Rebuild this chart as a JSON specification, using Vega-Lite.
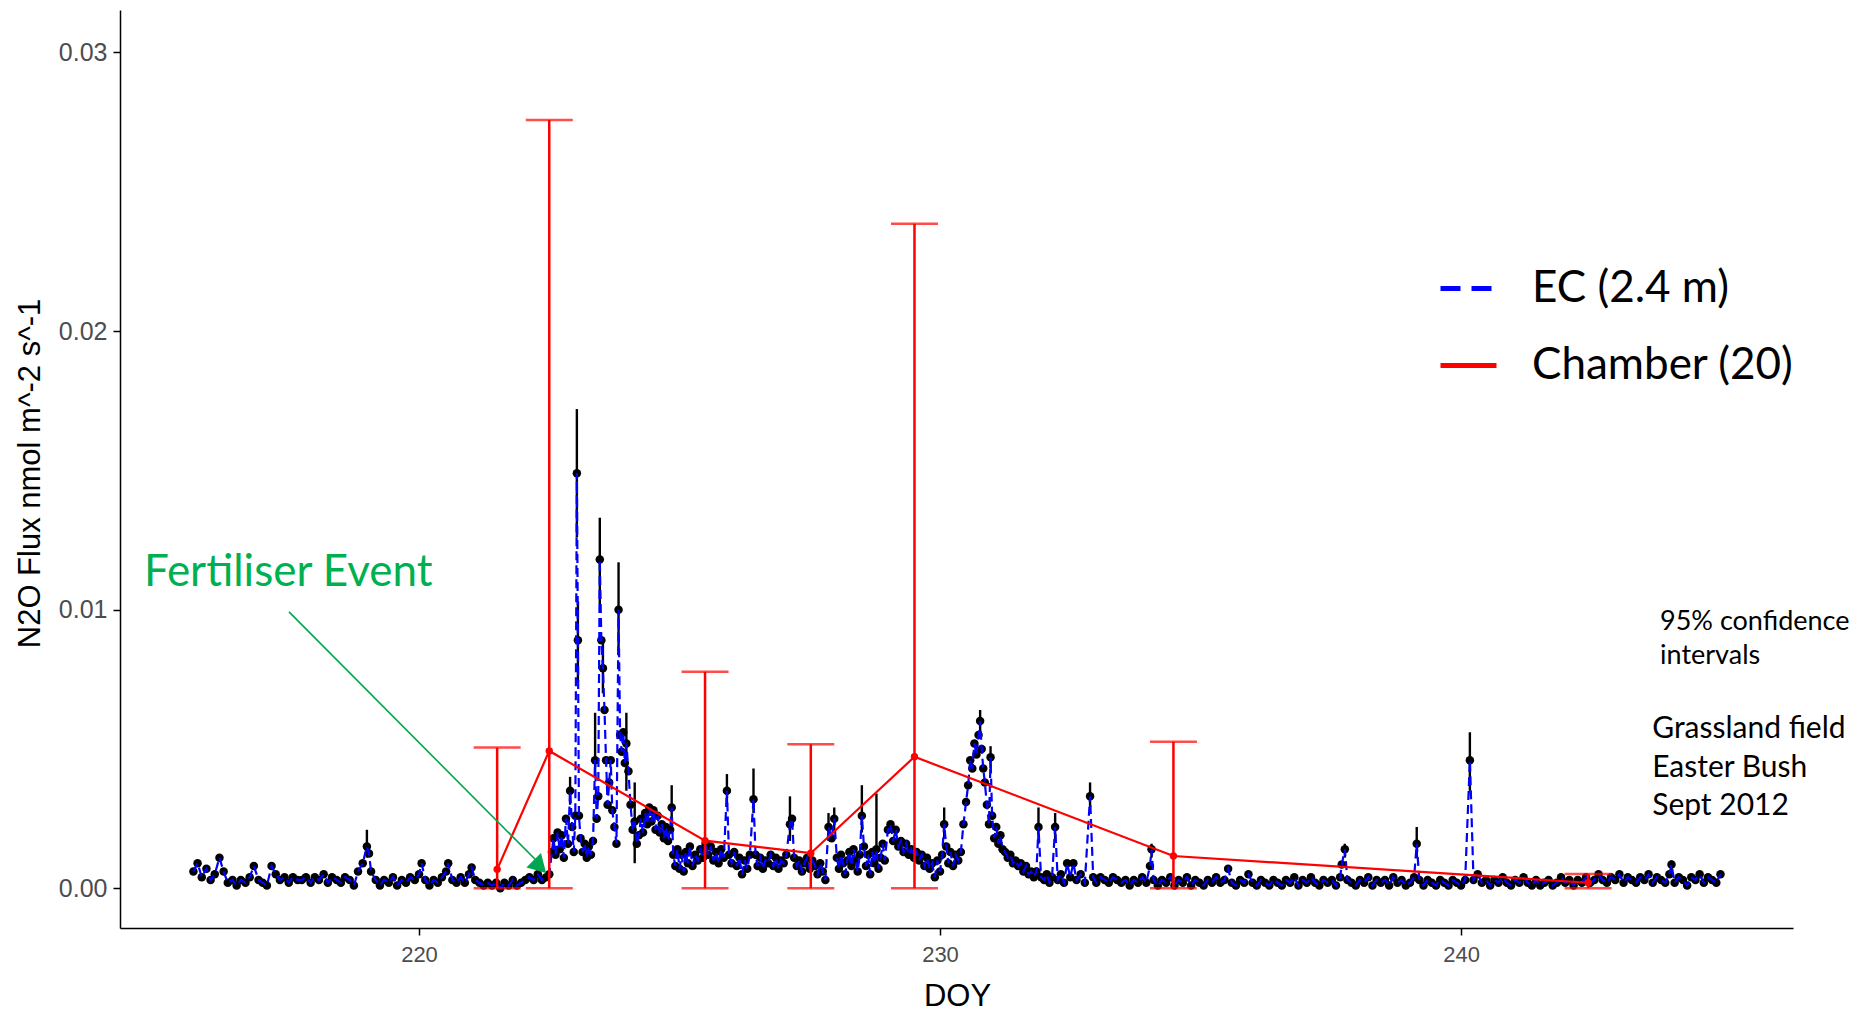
{
  "$schema": "https://vega.github.io/schema/vega-lite/v6.json",
  "width": 1673,
  "height": 918,
  "autosize": {"type": "none"},
  "padding": {"left": 120, "top": 10, "right": 74, "bottom": 86},
  "background": "white",
  "config": {
    "view": {"stroke": null},
    "axis": {"grid": false, "domainColor": "black", "domainWidth": 1.5, "tickColor": "black", "tickWidth": 1.5, "tickSize": 7, "labelColor": "#4D4D4D", "titleColor": "black", "titleFontWeight": "normal"}
  },
  "datasets": {
    "ec": [
      {"d":215.67,"f":0.0006},{"d":215.75,"f":0.0009},{"d":215.83,"f":0.0004},{"d":215.92,"f":0.0007},{"d":216.0,"f":0.0003},{"d":216.08,"f":0.0005},{"d":216.17,"f":0.0011},{"d":216.25,"f":0.0006},{"d":216.33,"f":0.0002},{"d":216.42,"f":0.0003},{"d":216.5,"f":0.0001},{"d":216.58,"f":0.0003},{"d":216.67,"f":0.0002},{"d":216.75,"f":0.0004},{"d":216.83,"f":0.0008},{"d":216.92,"f":0.0003},{"d":217.0,"f":0.0002},{"d":217.08,"f":0.0001},{"d":217.17,"f":0.0008},{"d":217.25,"f":0.0005},{"d":217.33,"f":0.0003},{"d":217.42,"f":0.0004},{"d":217.5,"f":0.0002},{"d":217.58,"f":0.0004},{"d":217.67,"f":0.0003},{"d":217.75,"f":0.0003},{"d":217.83,"f":0.0004},{"d":217.92,"f":0.0002},{"d":218.0,"f":0.0004},{"d":218.08,"f":0.0003},{"d":218.17,"f":0.0005},{"d":218.25,"f":0.0002},{"d":218.33,"f":0.0004},{"d":218.42,"f":0.0003},{"d":218.5,"f":0.0002},{"d":218.58,"f":0.0004},{"d":218.67,"f":0.0003},{"d":218.75,"f":0.0001},{"d":218.83,"f":0.0006},{"d":218.92,"f":0.0009},{"d":219.0,"f":0.0015},{"d":219.04,"f":0.00125},{"d":219.08,"f":0.0006},{"d":219.17,"f":0.0003},{"d":219.25,"f":0.0001},{"d":219.33,"f":0.0003},{"d":219.42,"f":0.0002},{"d":219.5,"f":0.0004},{"d":219.58,"f":0.0001},{"d":219.67,"f":0.0003},{"d":219.75,"f":0.0002},{"d":219.83,"f":0.0004},{"d":219.92,"f":0.0003},{"d":220.0,"f":0.0005},{"d":220.05,"f":0.0009},{"d":220.12,"f":0.0003},{"d":220.2,"f":0.0001},{"d":220.28,"f":0.0003},{"d":220.36,"f":0.0002},{"d":220.44,"f":0.0004},{"d":220.52,"f":0.0006},{"d":220.56,"f":0.0009},{"d":220.64,"f":0.0003},{"d":220.72,"f":0.0002},{"d":220.8,"f":0.0004},{"d":220.88,"f":0.0002},{"d":220.96,"f":0.0005},{"d":221.01,"f":0.00075},{"d":221.08,"f":0.0003},{"d":221.16,"f":0.0002},{"d":221.24,"f":0.0001},{"d":221.32,"f":0.0002},{"d":221.4,"f":0.0001},{"d":221.48,"f":0.0002},{"d":221.56,"f":0.0},{"d":221.64,"f":0.0002},{"d":221.72,"f":0.0001},{"d":221.8,"f":0.0003},{"d":221.88,"f":0.0001},{"d":221.96,"f":0.0002},{"d":222.04,"f":0.0003},{"d":222.12,"f":0.0004},{"d":222.2,"f":0.0003},{"d":222.28,"f":0.0005},{"d":222.36,"f":0.0003},{"d":222.44,"f":0.0004},{"d":222.5,"f":0.0005},
      {"d":222.55,"f":0.0013},{"d":222.58,"f":0.0018},{"d":222.62,"f":0.0012},{"d":222.66,"f":0.002},{"d":222.7,"f":0.0014},{"d":222.74,"f":0.0019},{"d":222.78,"f":0.0011},{"d":222.82,"f":0.0025},{"d":222.86,"f":0.0016},{"d":222.9,"f":0.0035},{"d":222.94,"f":0.0022},{"d":222.97,"f":0.0013},{"d":223.0,"f":0.0026},{"d":223.03,"f":0.0149},{"d":223.05,"f":0.0089},{"d":223.07,"f":0.0026},{"d":223.1,"f":0.0018},{"d":223.14,"f":0.0013},{"d":223.18,"f":0.0016},{"d":223.22,"f":0.0011},{"d":223.26,"f":0.0015},{"d":223.3,"f":0.0012},{"d":223.34,"f":0.0017},{"d":223.38,"f":0.0046},{"d":223.41,"f":0.0025},{"d":223.44,"f":0.0033},{"d":223.47,"f":0.0118},{"d":223.5,"f":0.0089},{"d":223.53,"f":0.0079},{"d":223.56,"f":0.0064},{"d":223.59,"f":0.0046},{"d":223.62,"f":0.003},{"d":223.65,"f":0.0038},{"d":223.68,"f":0.0046},{"d":223.71,"f":0.0028},{"d":223.75,"f":0.0022},{"d":223.79,"f":0.0016},{"d":223.83,"f":0.01},{"d":223.86,"f":0.0055},{"d":223.89,"f":0.0049},{"d":223.92,"f":0.0056},{"d":223.95,"f":0.0045},{"d":223.98,"f":0.0052},{"d":224.02,"f":0.0042},{"d":224.06,"f":0.003},{"d":224.1,"f":0.0021},{"d":224.14,"f":0.0024},{"d":224.18,"f":0.0016},{"d":224.22,"f":0.0019},{"d":224.26,"f":0.0025},{"d":224.3,"f":0.002},{"d":224.34,"f":0.0027},{"d":224.38,"f":0.0023},{"d":224.42,"f":0.0029},{"d":224.46,"f":0.0024},{"d":224.5,"f":0.0028},{"d":224.54,"f":0.0021},{"d":224.58,"f":0.0026},{"d":224.62,"f":0.002},{"d":224.66,"f":0.0023},{"d":224.7,"f":0.0018},{"d":224.74,"f":0.0022},{"d":224.78,"f":0.0017},{"d":224.82,"f":0.0021},{"d":224.85,"f":0.0029},{"d":224.88,"f":0.0012},{"d":224.92,"f":0.0008},{"d":224.96,"f":0.0014},{"d":225.0,"f":0.0007},{"d":225.04,"f":0.0012},{"d":225.08,"f":0.0006},{"d":225.12,"f":0.0013},{"d":225.16,"f":0.0009},{"d":225.2,"f":0.0015},{"d":225.25,"f":0.0008},{"d":225.3,"f":0.0012},{"d":225.35,"f":0.001},{"d":225.4,"f":0.0014},{"d":225.45,"f":0.0011},{"d":225.5,"f":0.0016},{"d":225.55,"f":0.0012},{"d":225.6,"f":0.0015},{"d":225.65,"f":0.001},{"d":225.7,"f":0.0013},{"d":225.75,"f":0.0009},{"d":225.8,"f":0.0014},{"d":225.85,"f":0.0011},{"d":225.91,"f":0.0035},{"d":225.95,"f":0.0012},{"d":226.0,"f":0.0009},{"d":226.05,"f":0.0013},{"d":226.1,"f":0.0008},{"d":226.15,"f":0.0011},{"d":226.2,"f":0.0005},{"d":226.25,"f":0.001},{"d":226.3,"f":0.0007},{"d":226.35,"f":0.0012},{"d":226.42,"f":0.0032},{"d":226.46,"f":0.0012},{"d":226.5,"f":0.0008},{"d":226.55,"f":0.0011},{"d":226.6,"f":0.0007},{"d":226.65,"f":0.001},{"d":226.7,"f":0.0009},{"d":226.75,"f":0.0012},{"d":226.8,"f":0.0008},{"d":226.85,"f":0.0011},{"d":226.9,"f":0.0007},{"d":226.95,"f":0.001},{"d":227.0,"f":0.0009},{"d":227.05,"f":0.0012},{"d":227.12,"f":0.0023},{"d":227.16,"f":0.0025},{"d":227.2,"f":0.0011},{"d":227.25,"f":0.0008},{"d":227.3,"f":0.001},{"d":227.35,"f":0.0006},{"d":227.4,"f":0.0009},{"d":227.45,"f":0.0011},{"d":227.5,"f":0.0007},{"d":227.55,"f":0.001},{"d":227.6,"f":0.0008},{"d":227.65,"f":0.0005},{"d":227.7,"f":0.0009},{"d":227.75,"f":0.0006},{"d":227.8,"f":0.0003},{"d":227.86,"f":0.0022},{"d":227.92,"f":0.0018},{"d":227.97,"f":0.0025},{"d":228.02,"f":0.0011},{"d":228.06,"f":0.0007},{"d":228.1,"f":0.0012},{"d":228.14,"f":0.0009},{"d":228.18,"f":0.0005},{"d":228.22,"f":0.001},{"d":228.26,"f":0.0013},{"d":228.3,"f":0.0008},{"d":228.34,"f":0.0014},{"d":228.38,"f":0.001},{"d":228.42,"f":0.0006},{"d":228.46,"f":0.0012},{"d":228.5,"f":0.0026},{"d":228.54,"f":0.0015},{"d":228.58,"f":0.0008},{"d":228.62,"f":0.0012},{"d":228.66,"f":0.0005},{"d":228.7,"f":0.0013},{"d":228.74,"f":0.0009},{"d":228.78,"f":0.0014},{"d":228.82,"f":0.0007},{"d":228.86,"f":0.0011},{"d":228.9,"f":0.0016},{"d":228.94,"f":0.001},{"d":229.0,"f":0.0021},{"d":229.05,"f":0.0023},{"d":229.1,"f":0.0017},{"d":229.15,"f":0.0021},{"d":229.2,"f":0.0015},{"d":229.25,"f":0.0017},{"d":229.3,"f":0.0013},{"d":229.35,"f":0.0016},{"d":229.4,"f":0.0012},{"d":229.45,"f":0.0014},{"d":229.5,"f":0.0011},{"d":229.55,"f":0.0013},{"d":229.6,"f":0.001},{"d":229.65,"f":0.0012},{"d":229.7,"f":0.0008},{"d":229.75,"f":0.0011},{"d":229.8,"f":0.0007},{"d":229.85,"f":0.0009},{"d":229.9,"f":0.0004},{"d":229.95,"f":0.001},{"d":230.0,"f":0.0006},{"d":230.04,"f":0.0012},{"d":230.08,"f":0.0023},{"d":230.12,"f":0.0015},{"d":230.16,"f":0.0009},{"d":230.2,"f":0.0013},{"d":230.25,"f":0.0008},{"d":230.3,"f":0.0012},{"d":230.35,"f":0.001},{"d":230.4,"f":0.0013},{"d":230.45,"f":0.0023},{"d":230.5,"f":0.0031},{"d":230.54,"f":0.0037},{"d":230.58,"f":0.0046},{"d":230.62,"f":0.0043},{"d":230.66,"f":0.0052},{"d":230.7,"f":0.0048},{"d":230.74,"f":0.0055},{"d":230.77,"f":0.006},{"d":230.8,"f":0.005},{"d":230.83,"f":0.0043},{"d":230.86,"f":0.0038},{"d":230.9,"f":0.003},{"d":230.94,"f":0.0023},{"d":230.97,"f":0.0047},{"d":231.0,"f":0.0026},{"d":231.04,"f":0.0018},{"d":231.08,"f":0.0022},{"d":231.12,"f":0.0016},{"d":231.16,"f":0.0019},{"d":231.2,"f":0.0014},{"d":231.25,"f":0.0013},{"d":231.3,"f":0.0011},{"d":231.35,"f":0.0012},{"d":231.4,"f":0.0009},{"d":231.45,"f":0.001},{"d":231.5,"f":0.0008},{"d":231.55,"f":0.0009},{"d":231.6,"f":0.0006},{"d":231.65,"f":0.0008},{"d":231.7,"f":0.0005},{"d":231.75,"f":0.0006},{"d":231.8,"f":0.0004},{"d":231.85,"f":0.0006},{"d":231.89,"f":0.0022},{"d":231.94,"f":0.0004},{"d":232.0,"f":0.0003},{"d":232.05,"f":0.0005},{"d":232.1,"f":0.0002},{"d":232.15,"f":0.0004},{"d":232.21,"f":0.0022},{"d":232.26,"f":0.0003},{"d":232.32,"f":0.0005},{"d":232.38,"f":0.0002},{"d":232.44,"f":0.0009},{"d":232.5,"f":0.0004},{"d":232.56,"f":0.0009},{"d":232.62,"f":0.0003},{"d":232.7,"f":0.0005},{"d":232.78,"f":0.0002},{"d":232.88,"f":0.0033},{"d":232.94,"f":0.0004},{"d":233.0,"f":0.0002},{"d":233.08,"f":0.0004},{"d":233.16,"f":0.0003},{"d":233.24,"f":0.0002},{"d":233.32,"f":0.0004},{"d":233.4,"f":0.0003},{"d":233.48,"f":0.0002},{"d":233.56,"f":0.0003},{"d":233.64,"f":0.0001},{"d":233.72,"f":0.0003},{"d":233.8,"f":0.0002},{"d":233.88,"f":0.0004},{"d":233.96,"f":0.0002},{"d":234.03,"f":0.0008},{"d":234.06,"f":0.0014},{"d":234.1,"f":0.0003},{"d":234.18,"f":0.0001},{"d":234.26,"f":0.0003},{"d":234.34,"f":0.0002},{"d":234.42,"f":0.0004},{"d":234.5,"f":0.0001},{"d":234.58,"f":0.0003},{"d":234.66,"f":0.0002},{"d":234.74,"f":0.0004},{"d":234.82,"f":0.0001},{"d":234.9,"f":0.0003},{"d":234.98,"f":0.0002},{"d":235.06,"f":0.0001},{"d":235.14,"f":0.0003},{"d":235.22,"f":0.0002},{"d":235.3,"f":0.0004},{"d":235.38,"f":0.0002},{"d":235.46,"f":0.0003},{"d":235.53,"f":0.0007},{"d":235.6,"f":0.0002},{"d":235.68,"f":0.0001},{"d":235.76,"f":0.0003},{"d":235.84,"f":0.0002},{"d":235.92,"f":0.0005},{"d":236.0,"f":0.0002},{"d":236.08,"f":0.0001},{"d":236.16,"f":0.0003},{"d":236.24,"f":0.0002},{"d":236.32,"f":0.0001},{"d":236.4,"f":0.0003},{"d":236.48,"f":0.0002},{"d":236.56,"f":0.0001},{"d":236.64,"f":0.0003},{"d":236.72,"f":0.0002},{"d":236.8,"f":0.0004},{"d":236.88,"f":0.0001},{"d":236.96,"f":0.0003},{"d":237.04,"f":0.0002},{"d":237.12,"f":0.0004},{"d":237.2,"f":0.0002},{"d":237.28,"f":0.0001},{"d":237.36,"f":0.0003},{"d":237.44,"f":0.0002},{"d":237.52,"f":0.0003},{"d":237.6,"f":0.0001},{"d":237.68,"f":0.0004},{"d":237.71,"f":0.00085},{"d":237.77,"f":0.0014},{"d":237.82,"f":0.0003},{"d":237.9,"f":0.0002},{"d":237.98,"f":0.0001},{"d":238.06,"f":0.0003},{"d":238.14,"f":0.0002},{"d":238.22,"f":0.0004},{"d":238.3,"f":0.0001},{"d":238.38,"f":0.0003},{"d":238.46,"f":0.0002},{"d":238.54,"f":0.0003},{"d":238.62,"f":0.0001},{"d":238.7,"f":0.0004},{"d":238.78,"f":0.0002},{"d":238.86,"f":0.0003},{"d":238.94,"f":0.0001},{"d":239.02,"f":0.0002},{"d":239.1,"f":0.0004},{"d":239.15,"f":0.0016},{"d":239.2,"f":0.0003},{"d":239.28,"f":0.0001},{"d":239.36,"f":0.0003},{"d":239.44,"f":0.0002},{"d":239.52,"f":0.0001},{"d":239.6,"f":0.0003},{"d":239.68,"f":0.0002},{"d":239.76,"f":0.0001},{"d":239.84,"f":0.0003},{"d":239.92,"f":0.0002},{"d":240.0,"f":0.0001},{"d":240.08,"f":0.0003},{"d":240.17,"f":0.0046},{"d":240.24,"f":0.0003},{"d":240.32,"f":0.0005},{"d":240.4,"f":0.0002},{"d":240.48,"f":0.0003},{"d":240.56,"f":0.0001},{"d":240.64,"f":0.0003},{"d":240.72,"f":0.0002},{"d":240.8,"f":0.0004},{"d":240.88,"f":0.0002},{"d":240.96,"f":0.0001},{"d":241.04,"f":0.0003},{"d":241.12,"f":0.0002},{"d":241.2,"f":0.0004},{"d":241.28,"f":0.0002},{"d":241.36,"f":0.0001},{"d":241.44,"f":0.0003},{"d":241.52,"f":0.0001},{"d":241.6,"f":0.0002},{"d":241.68,"f":0.0003},{"d":241.76,"f":0.0001},{"d":241.84,"f":0.0002},{"d":241.92,"f":0.0004},{"d":242.0,"f":0.0002},{"d":242.08,"f":0.0003},{"d":242.16,"f":0.0001},{"d":242.24,"f":0.0003},{"d":242.32,"f":0.0002},{"d":242.4,"f":0.0004},{"d":242.48,"f":0.0002},{"d":242.56,"f":0.0003},{"d":242.64,"f":0.0005},{"d":242.72,"f":0.0003},{"d":242.8,"f":0.0002},{"d":242.88,"f":0.0004},{"d":242.96,"f":0.0003},{"d":243.04,"f":0.0005},{"d":243.12,"f":0.0002},{"d":243.2,"f":0.0004},{"d":243.28,"f":0.0003},{"d":243.36,"f":0.0002},{"d":243.44,"f":0.0004},{"d":243.52,"f":0.0003},{"d":243.6,"f":0.0005},{"d":243.68,"f":0.0002},{"d":243.76,"f":0.0004},{"d":243.84,"f":0.0003},{"d":243.92,"f":0.0002},{"d":244.0,"f":0.0005},{"d":244.04,"f":0.00085},{"d":244.1,"f":0.0002},{"d":244.18,"f":0.0004},{"d":244.26,"f":0.0003},{"d":244.34,"f":0.0001},{"d":244.42,"f":0.0004},{"d":244.5,"f":0.0003},{"d":244.58,"f":0.0005},{"d":244.66,"f":0.0002},{"d":244.74,"f":0.0004},{"d":244.82,"f":0.0003},{"d":244.9,"f":0.0002},{"d":244.98,"f":0.0005}
    ],
    "ecerr": [
      {"d":219.0,"lo":0.0011,"hi":0.0021},{"d":222.9,"lo":0.003,"hi":0.004},{"d":223.03,"lo":0.0126,"hi":0.0172},{"d":223.05,"lo":0.0074,"hi":0.0103},{"d":223.38,"lo":0.004,"hi":0.0063},{"d":223.47,"lo":0.0102,"hi":0.0133},{"d":223.53,"lo":0.007,"hi":0.0089},{"d":223.83,"lo":0.0085,"hi":0.0117},{"d":223.98,"lo":0.0035,"hi":0.0063},{"d":224.14,"lo":0.0009,"hi":0.0038},{"d":224.85,"lo":0.0022,"hi":0.0037},{"d":225.91,"lo":0.003,"hi":0.0041},{"d":226.42,"lo":0.0027,"hi":0.0043},{"d":227.12,"lo":0.0017,"hi":0.0033},{"d":227.86,"lo":0.0017,"hi":0.0027},{"d":227.97,"lo":0.002,"hi":0.0029},{"d":228.5,"lo":0.002,"hi":0.0037},{"d":228.78,"lo":0.001,"hi":0.0034},{"d":230.08,"lo":0.0018,"hi":0.0029},{"d":230.77,"lo":0.0056,"hi":0.0064},{"d":230.97,"lo":0.0043,"hi":0.0051},{"d":231.89,"lo":0.0016,"hi":0.0029},{"d":232.21,"lo":0.0017,"hi":0.0027},{"d":232.88,"lo":0.0029,"hi":0.0038},{"d":234.06,"lo":0.0011,"hi":0.0016},{"d":237.77,"lo":0.0011,"hi":0.0016},{"d":239.15,"lo":0.0011,"hi":0.0022},{"d":240.17,"lo":0.0035,"hi":0.0056},{"d":244.04,"lo":0.0006,"hi":0.001}
    ],
    "ch": [
      {"d":221.5,"f":0.00068,"lo":0,"hi":0.00505},
      {"d":222.5,"f":0.00493,"lo":0,"hi":0.02757},
      {"d":225.49,"f":0.00171,"lo":0,"hi":0.00777},
      {"d":227.52,"f":0.00126,"lo":0,"hi":0.00517},
      {"d":229.51,"f":0.00472,"lo":0,"hi":0.02385},
      {"d":234.48,"f":0.00116,"lo":0,"hi":0.00526},
      {"d":242.44,"f":0.0002,"lo":0,"hi":0.00051}
    ],
    "arrow": [{"d":217.505,"f":0.00992},{"d":222.4,"f":0.00072}],
    "head": [{"d":222.32,"f":0.00078}]
  },
  "encoding": {
    "x": {"field": "d", "type": "quantitative", "scale": {"domain": [214.261, 246.372], "nice": false, "zero": false},
      "axis": {"values": [220, 230, 240], "format": "d", "title": "DOY", "labelFont": "Liberation Sans", "labelFontSize": 22, "labelPadding": 9, "titleFont": "Liberation Sans", "titleFontSize": 31, "titleX": 837, "titleY": 68, "titleBaseline": "middle"}},
    "y": {"field": "f", "type": "quantitative", "scale": {"domain": [-0.001425, 0.031522], "nice": false, "zero": false},
      "axis": {"values": [0, 0.01, 0.02, 0.03], "format": ".2f", "title": "N2O Flux nmol m^-2 s^-1", "labelFont": "Liberation Sans", "labelFontSize": 25, "labelPadding": 6, "titleFont": "Liberation Sans", "titleFontSize": 31, "titleX": -90, "titleY": 463, "titleBaseline": "middle"}}
  },
  "layer": [
    {"data": {"name": "ec"}, "mark": {"type": "point", "filled": true, "shape": "circle", "size": 72, "color": "black", "opacity": 1}},
    {"data": {"name": "ecerr"}, "mark": {"type": "rule", "color": "black", "strokeWidth": 2.4},
      "encoding": {"y": {"field": "lo", "type": "quantitative"}, "y2": {"field": "hi"}}},
    {"data": {"name": "ec"}, "mark": {"type": "line", "strokeWidth": 2.2, "strokeDash": [9, 5]},
      "encoding": {"color": {"datum": "EC (2.4 m)", "type": "nominal",
        "scale": {"domain": ["EC (2.4 m)", "Chamber (20)"], "range": ["#0000FF", "#FF0000"]},
        "legend": {"title": null, "orient": "none", "legendX": 1318, "legendY": 248, "padding": 0, "symbolType": "stroke", "symbolSize": 3136, "symbolStrokeWidth": 5, "labelFont": "Lato", "labelFontSize": 44, "labelColor": "black", "labelOffset": 33, "rowPadding": 24, "labelLimit": 400,
          "encode": {"symbols": {"update": {"stroke": {"signal": "datum.value === 'EC (2.4 m)' ? '#0070C0' : '#FF0000'"}, "strokeDash": {"signal": "datum.value === 'EC (2.4 m)' ? [20, 11] : [1, 0]"}}}}}}}},
    {"data": {"name": "ch"}, "mark": {"type": "rule", "color": "#FF0000", "strokeWidth": 2.5},
      "encoding": {"y": {"field": "lo", "type": "quantitative"}, "y2": {"field": "hi"}}},
    {"data": {"name": "ch"}, "mark": {"type": "tick", "orient": "horizontal", "color": "#FF0000", "size": 47, "thickness": 2.5},
      "encoding": {"y": {"field": "hi", "type": "quantitative"}}},
    {"data": {"name": "ch"}, "mark": {"type": "tick", "orient": "horizontal", "color": "#FF0000", "size": 47, "thickness": 2.5},
      "encoding": {"y": {"field": "lo", "type": "quantitative"}}},
    {"data": {"name": "ch"}, "mark": {"type": "line", "strokeWidth": 2.2},
      "encoding": {"color": {"datum": "Chamber (20)", "type": "nominal"}}},
    {"data": {"name": "ch"}, "mark": {"type": "point", "filled": true, "shape": "circle", "size": 55, "color": "#FF0000", "opacity": 1}},
    {"data": {"name": "arrow"}, "mark": {"type": "line", "color": "#00A650", "strokeWidth": 1.6}},
    {"data": {"name": "head"}, "mark": {"type": "point", "shape": "triangle-up", "filled": true, "color": "#00A650", "size": 420, "angle": 135.5, "opacity": 1}},
    {"data": {"values": [{"d":214.72,"f":0.01132,"t":"Fertiliser Event"}]}, "mark": {"type": "text", "align": "left", "baseline": "middle", "font": "Lato", "fontSize": 44, "color": "#00B050"},
      "encoding": {"text": {"field": "t"}}},
    {"data": {"values": [{"d":243.82,"f":0.00956,"t":"95% confidence"},{"d":243.82,"f":0.00834,"t":"intervals"}]}, "mark": {"type": "text", "align": "left", "baseline": "middle", "font": "Lato", "fontSize": 27, "color": "black"},
      "encoding": {"text": {"field": "t"}}},
    {"data": {"values": [{"d":243.67,"f":0.00572,"t":"Grassland field"},{"d":243.67,"f":0.00432,"t":"Easter Bush"},{"d":243.67,"f":0.00296,"t":"Sept 2012"}]}, "mark": {"type": "text", "align": "left", "baseline": "middle", "font": "Lato", "fontSize": 30, "color": "black"},
      "encoding": {"text": {"field": "t"}}}
  ]
}
